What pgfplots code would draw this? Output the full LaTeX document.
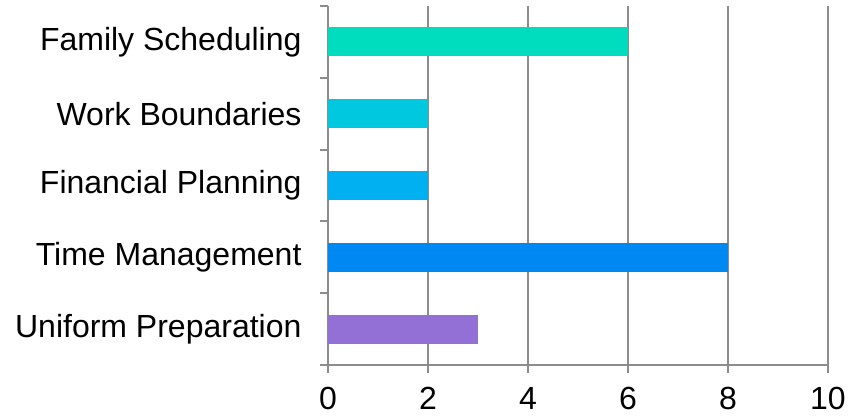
\documentclass[border=0pt]{standalone}
\usepackage{fontspec}
\setmainfont{Liberation Sans}
\usepackage{pgfplots}
\pgfplotsset{compat=1.18}
\definecolor{axgray}{HTML}{8C8C8C}
\definecolor{cA}{HTML}{00DCBE}
\definecolor{cB}{HTML}{00C8DE}
\definecolor{cC}{HTML}{00B0F0}
\definecolor{cD}{HTML}{0088F2}
\definecolor{cE}{HTML}{9370D6}
\begin{document}
\begin{tikzpicture}
\begin{axis}[
  scale only axis,
  width=500pt, height=359pt,
  xmin=0, xmax=10, ymin=-0.5, ymax=4.5,
  axis x line*=bottom, axis y line*=left,
  axis line style={draw=axgray, line width=2pt},
  xtick={0,2,...,10},
  ytick={-0.5,0.5,...,4.5},
  yticklabels={},
  tick align=outside,
  major tick length=8pt,
  tick style={draw=axgray, line width=2pt},
  xmajorgrids,
  grid style={draw=axgray, line width=2pt},
  extra y ticks={0,1,2,3,4},
  extra y tick labels={Uniform Preparation,Time Management,Financial Planning,Work Boundaries,Family Scheduling},
  extra y tick style={tick style={draw=none}, yticklabel style={xshift=-15pt}},
  ticklabel style={font=\fontsize{32}{37}\selectfont},
  xticklabel style={yshift=-11pt},
  /pgf/number format/assume math mode=true,
  xbar, bar width=29pt, bar shift=0pt,
]
\addplot[draw=none, fill=cE] coordinates {(3,0)};
\addplot[draw=none, fill=cD] coordinates {(8,1)};
\addplot[draw=none, fill=cC] coordinates {(2,2)};
\addplot[draw=none, fill=cB] coordinates {(2,3)};
\addplot[draw=none, fill=cA] coordinates {(6,4)};
\end{axis}
\pgfresetboundingbox
\path (current axis.south west) ++(-328pt,-54pt) rectangle ++(849pt,419pt);
\end{tikzpicture}
\end{document}
